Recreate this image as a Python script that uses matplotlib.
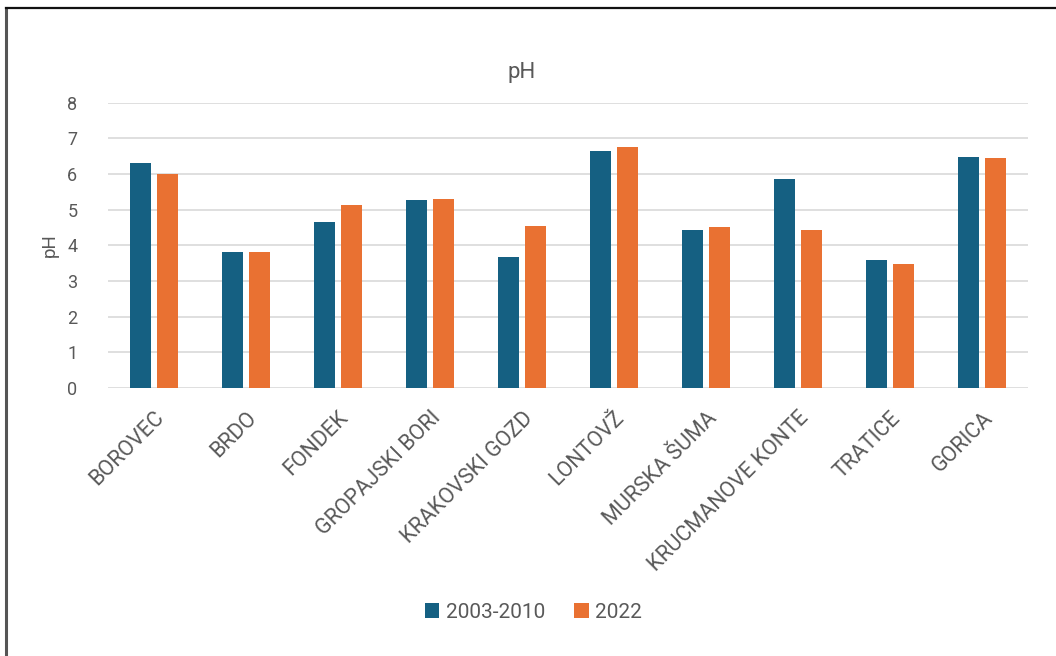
import numpy as np
import matplotlib.pyplot as plt
from matplotlib.lines import Line2D

plt.rcParams['font.family'] = ['Roboto', 'DejaVu Sans']

sites = ['BOROVEC', 'BRDO', 'FONDEK', 'GROPAJSKI BORI', 'KRAKOVSKI GOZD',
         'LONTOVŽ', 'MURSKA ŠUMA', 'KRUCMANOVE KONTE', 'TRATICE', 'GORICA']
ph_2003_2010 = [6.31, 3.80, 4.64, 5.27, 3.68, 6.64, 4.42, 5.87, 3.58, 6.48]
ph_2022 = [5.99, 3.80, 5.12, 5.31, 4.55, 6.74, 4.52, 4.42, 3.47, 6.45]
series_labels = ['2003-2010', '2022']

blue = '#156082'
orange = '#E97132'
text_col = '#595959'

fig = plt.figure(figsize=(10.56, 6.56), dpi=100)
ax = fig.add_axes([0.1023, 0.4085, 0.8712, 0.4352])

x = np.arange(len(sites))
w = 0.22
ax.bar(x - 0.147, ph_2003_2010, width=w, color=blue, label=series_labels[0], zorder=3)
ax.bar(x + 0.147, ph_2022, width=w, color=orange, label=series_labels[1], zorder=3)

ax.set_xlim(-0.5, len(sites) - 0.5)
ax.set_ylim(0, 8)
ax.set_yticks(range(0, 9))
ax.yaxis.grid(True, color='#d9d9d9', linewidth=1.2, zorder=0)
ax.set_axisbelow(True)
for s in ax.spines.values():
    s.set_visible(False)
ax.tick_params(length=0, labelsize=13, labelcolor=text_col)
ax.tick_params(axis='y', pad=22)
ax.set_xticks(x)
ax.set_xticklabels(sites, rotation=45, ha='right', rotation_mode='anchor',
                   fontsize=15.5, color=text_col)
ax.tick_params(axis='x', pad=14)

ax.set_ylabel('pH', fontsize=13.5, color=text_col, labelpad=6)
fig.text(0.494, 0.89, 'pH', fontsize=16, color=text_col, ha='center', va='center')

fig.legend(loc='center', bbox_to_anchor=(0.505, 0.067), ncol=2, frameon=False,
           fontsize=15, labelcolor=text_col, handlelength=0.7, handleheight=0.7,
           handletextpad=0.3, columnspacing=1.4)

# frame edges along the top and left
fig.add_artist(Line2D([0.0057, 0.0057], [0, 0.988], color='#555555', linewidth=2.2))
fig.add_artist(Line2D([0.0057, 1.0], [0.988, 0.988], color='#111111', linewidth=1.6))

fig.savefig('out.png', dpi=100)
